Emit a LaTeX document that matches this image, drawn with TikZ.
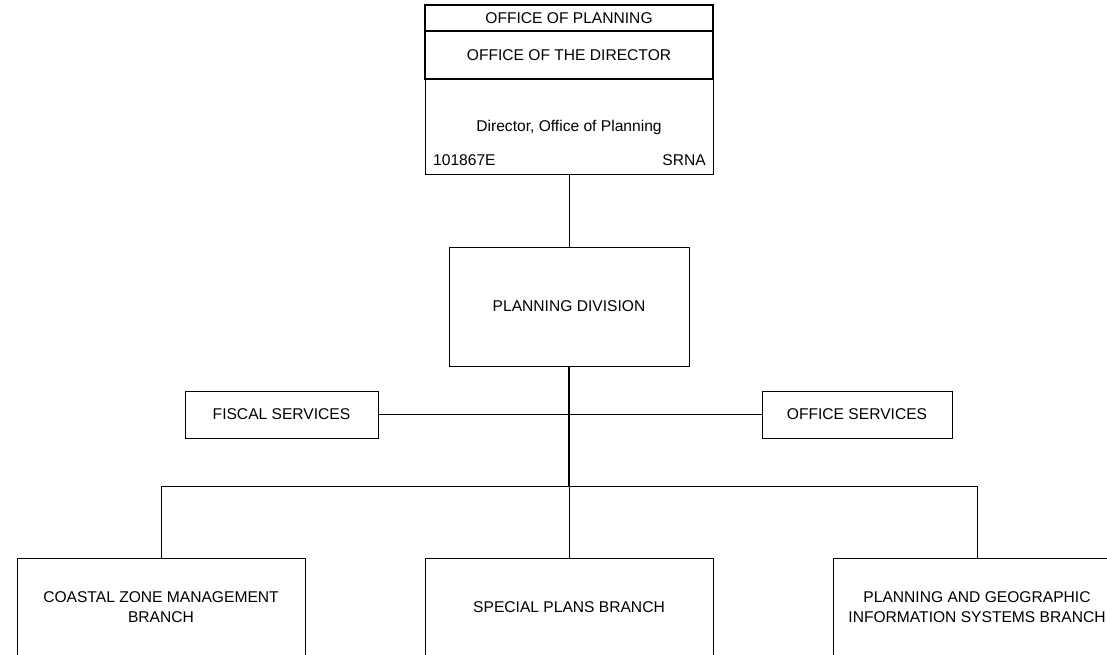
\documentclass[tikz,border=0pt]{standalone}
\usepackage{fontspec}
\setmainfont{Liberation Sans}
\begin{document}
\begin{tikzpicture}[x=1pt,y=-1pt,
  txt/.style={font=\fontsize{15.6}{20}\selectfont},
  box/.style={txt, draw, line width=0.95pt, rectangle, inner sep=0pt, align=center},
  hdrbox/.style={box, line width=1.6pt, minimum width=288pt},
  lbl/.style={txt, inner sep=0pt},
  conn/.style={line width=0.95pt},
  thickconn/.style={line width=1.9pt}]
\useasboundingbox (0,0) rectangle (1107,654);
\clip (0,0) rectangle (1107,654);
% top box
\node[box, minimum width=288pt, minimum height=169pt] (dir) at (569,89.5) {};
\node[hdrbox, minimum height=26pt] (hdr) at (569,18) {OFFICE OF PLANNING};
\node[hdrbox, minimum height=48pt] (odir) at (569,55) {OFFICE OF THE DIRECTOR};
\node[lbl] (title) at (569,127) {Director, Office of Planning};
\node[lbl, anchor=west] (code) at (433,160) {101867E};
\node[lbl, anchor=east] (srna) at (706,160) {SRNA};
% planning division
\node[box, minimum width=240pt, minimum height=119pt] (pd) at (569,306.5) {PLANNING DIVISION};
% staff
\node[box, minimum width=193pt, minimum height=47pt] (fiscal) at (281.5,414.5) {FISCAL SERVICES};
\node[box, minimum width=190pt, minimum height=47pt] (office) at (857,414.5) {OFFICE SERVICES};
% branches
\node[box, minimum width=288pt, minimum height=98pt] (czm) at (161,607) {COASTAL ZONE MANAGEMENT\\BRANCH};
\node[box, minimum width=288pt, minimum height=98pt] (spb) at (569,607) {SPECIAL PLANS BRANCH};
\node[box, minimum width=288pt, minimum height=98pt] (pgis) at (977,607) {PLANNING AND GEOGRAPHIC\\INFORMATION SYSTEMS BRANCH};
% connectors
\coordinate (bus) at (569,486);
\coordinate (busL) at (161,486);
\coordinate (busR) at (977,486);
\draw[conn] (dir.south) -- (pd.north);
\draw[conn] (fiscal.east) -- (office.west);
\draw[thickconn] (pd.south) -- (bus);
\draw[conn] (czm.north) -- (busL) -- (busR) -- (pgis.north);
\draw[conn] (bus) -- (spb.north);
\end{tikzpicture}
\end{document}
